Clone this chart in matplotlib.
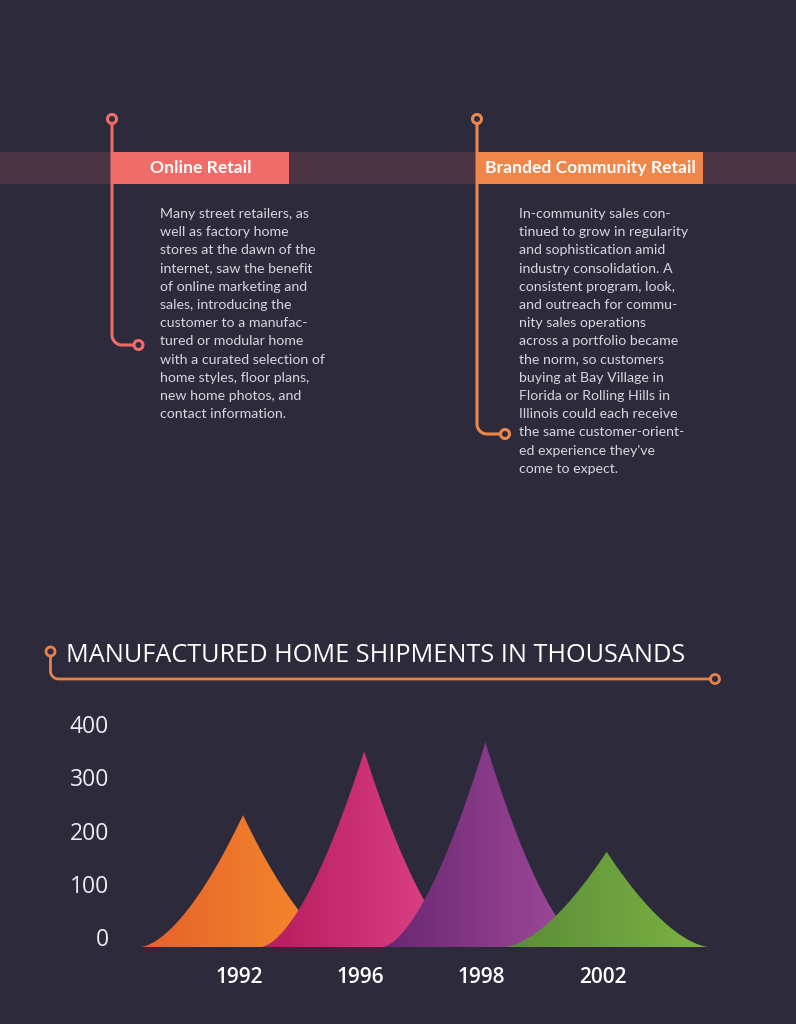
"""Manufactured home shipments infographic: retail timeline + cusp-shaped peak chart."""
import numpy as np
import matplotlib
matplotlib.use("Agg")
import matplotlib.pyplot as plt
import matplotlib.transforms as mtransforms
from matplotlib.colors import LinearSegmentedColormap
from matplotlib.patches import Polygon, Circle, Rectangle

# --- data -----------------------------------------------------------------
years = ["1992", "1996", "1998", "2002"]
shipments = [229, 349, 366, 160]          # thousands
y_ticks = [0, 100, 200, 300, 400]
grad_left = ["#e6602a", "#b41c5c", "#682770", "#5a8a38"]
grad_right = ["#f6902c", "#e2488c", "#a44c9e", "#7db442"]

chart_title = "MANUFACTURED HOME SHIPMENTS IN THOUSANDS"
online_title = "Online Retail"
online_lines = [
    "Many street retailers, as",
    "well as factory home",
    "stores at the dawn of the",
    "internet, saw the benefit",
    "of online marketing and",
    "sales, introducing the",
    "customer to a manufac-",
    "tured or modular home",
    "with a curated selection of",
    "home styles, floor plans,",
    "new home photos, and",
    "contact information.",
]
branded_title = "Branded Community Retail"
branded_lines = [
    "In-community sales con-",
    "tinued to grow in regularity",
    "and sophistication amid",
    "industry consolidation. A",
    "consistent program, look,",
    "and outreach for commu-",
    "nity sales operations",
    "across a portfolio became",
    "the norm, so customers",
    "buying at Bay Village in",
    "Florida or Rolling Hills in",
    "Illinois could each receive",
    "the same customer-orient-",
    "ed experience they've",
    "come to expect.",
]

# --- style ----------------------------------------------------------------
BG = "#2c2a3b"
BAND = "#4a3444"
SALMON = "#f06c68"
ORANGE = "#f0874a"
TEXT = "#d6d6de"
W, H = 796, 1024

fig = plt.figure(figsize=(W / 100, H / 100), dpi=100, facecolor=BG)

# overlay in pixel coordinates for the decorative part
deco = fig.add_axes([0, 0, 1, 1])
deco.set_xlim(0, W)
deco.set_ylim(H, 0)
deco.axis("off")

deco.add_patch(Rectangle((0, 152), W, 32, color=BAND, lw=0))


def connector(x, y_top, y_bot, x_end, color, lw=2.2, r=10):
    """Vertical line with a ring on top, rounded elbow and ring at the end."""
    t = np.linspace(np.pi, np.pi / 2, 20)
    xs = np.r_[x, x, x + r + r * np.cos(t), x_end - 4.5]
    ys = np.r_[y_top + 4.5, y_bot - r, y_bot - r + r * np.sin(t), y_bot]
    deco.plot(xs, ys, color=color, lw=lw, solid_capstyle="butt", zorder=2)
    for cx, cy in [(x, y_top), (x_end, y_bot)]:
        deco.add_patch(Circle((cx, cy), 4.5, fill=False, ec=color, lw=lw, zorder=3))


connector(112, 119, 345, 138.5, SALMON)
connector(477, 119, 434, 505, ORANGE)

deco.add_patch(Rectangle((112, 152), 177, 32, color=SALMON, lw=0, zorder=4))
deco.add_patch(Rectangle((477, 152), 226, 32, color=ORANGE, lw=0, zorder=4))
deco.text(200.5, 168, online_title, color="white", fontsize=12.6, fontweight="bold",
          family="Lato", ha="center", va="center", zorder=5)
deco.text(590, 168, branded_title, color="white", fontsize=12.6, fontweight="bold",
          family="Lato", ha="center", va="center", zorder=5)

LINE_STEP = 18.2
for i, s in enumerate(online_lines):
    deco.text(160, 214 + i * LINE_STEP, s, color=TEXT, fontsize=10.2, family="Lato",
              ha="left", va="center")
for i, s in enumerate(branded_lines):
    deco.text(519, 214 + i * LINE_STEP, s, color=TEXT, fontsize=10.2, family="Lato",
              ha="left", va="center")

# chart title with its bracket line
connector(50.5, 651.5, 679, 715, "#e8824a", lw=2.0, r=8)
deco.text(66, 656, chart_title, color="white", fontsize=18.2, family="Open Sans",
          ha="left", va="center")

# --- the peak chart -------------------------------------------------------
PEAK0_PX, STEP_PX = 243.0, 121.2      # x pixel of first peak, spacing
ZERO_PX, PX_PER_UNIT = 937.0, 0.5325  # y pixel of value 0, pixels per thousand
L, R, T, B = 120, 740, 700, 960       # axes box in pixels
BASE = -19                            # floor of the shapes (sits below the 0 label)
HALF = 0.854                          # half width of a shape, in category units
POWER = 1.65                          # curvature of the cusp sides

ax = fig.add_axes([L / W, 1 - B / H, (R - L) / W, (B - T) / H])
ax.set_facecolor("none")
for sp in ax.spines.values():
    sp.set_visible(False)

u = np.linspace(0, 1, 120)
for i, (val, c0, c1) in enumerate(zip(shipments, grad_left, grad_right)):
    side = BASE + (val - BASE) * (1 - u) ** POWER
    xs = np.r_[i - HALF * u[::-1], i + HALF * u]
    ys = np.r_[side[::-1], side]
    poly = Polygon(np.c_[xs, ys], closed=True, fc="none", ec="none")
    ax.add_patch(poly)
    cmap = LinearSegmentedColormap.from_list(f"g{i}", [c0, c1])
    im = ax.imshow(np.linspace(0, 1, 256)[None, :], cmap=cmap, aspect="auto",
                   extent=(i - HALF, i + HALF, BASE, val), origin="lower",
                   zorder=2 + i, interpolation="bilinear")
    im.set_clip_path(poly)

ax.set_xlim((L - PEAK0_PX) / STEP_PX, (R - PEAK0_PX) / STEP_PX)
ax.set_ylim((ZERO_PX - B) / PX_PER_UNIT, (ZERO_PX - T) / PX_PER_UNIT)

ax.set_xticks(range(len(years)))
ax.set_xticklabels(years, family="Open Sans", fontsize=15, color="white",
                   fontweight="semibold")
ax.set_yticks(y_ticks)
ax.set_yticklabels([str(v) for v in y_ticks], family="Open Sans", fontsize=16.5,
                   color="#ececf2")
ax.tick_params(axis="x", length=0, pad=5)
ax.tick_params(axis="y", length=0, pad=8)
# year labels sit a few pixels left of the peaks in the original
shift = mtransforms.ScaledTranslation(-4 / 100, 0, fig.dpi_scale_trans)
for lab in ax.get_xticklabels():
    lab.set_transform(lab.get_transform() + shift)

fig.savefig("out.png", dpi=100, facecolor=BG)
